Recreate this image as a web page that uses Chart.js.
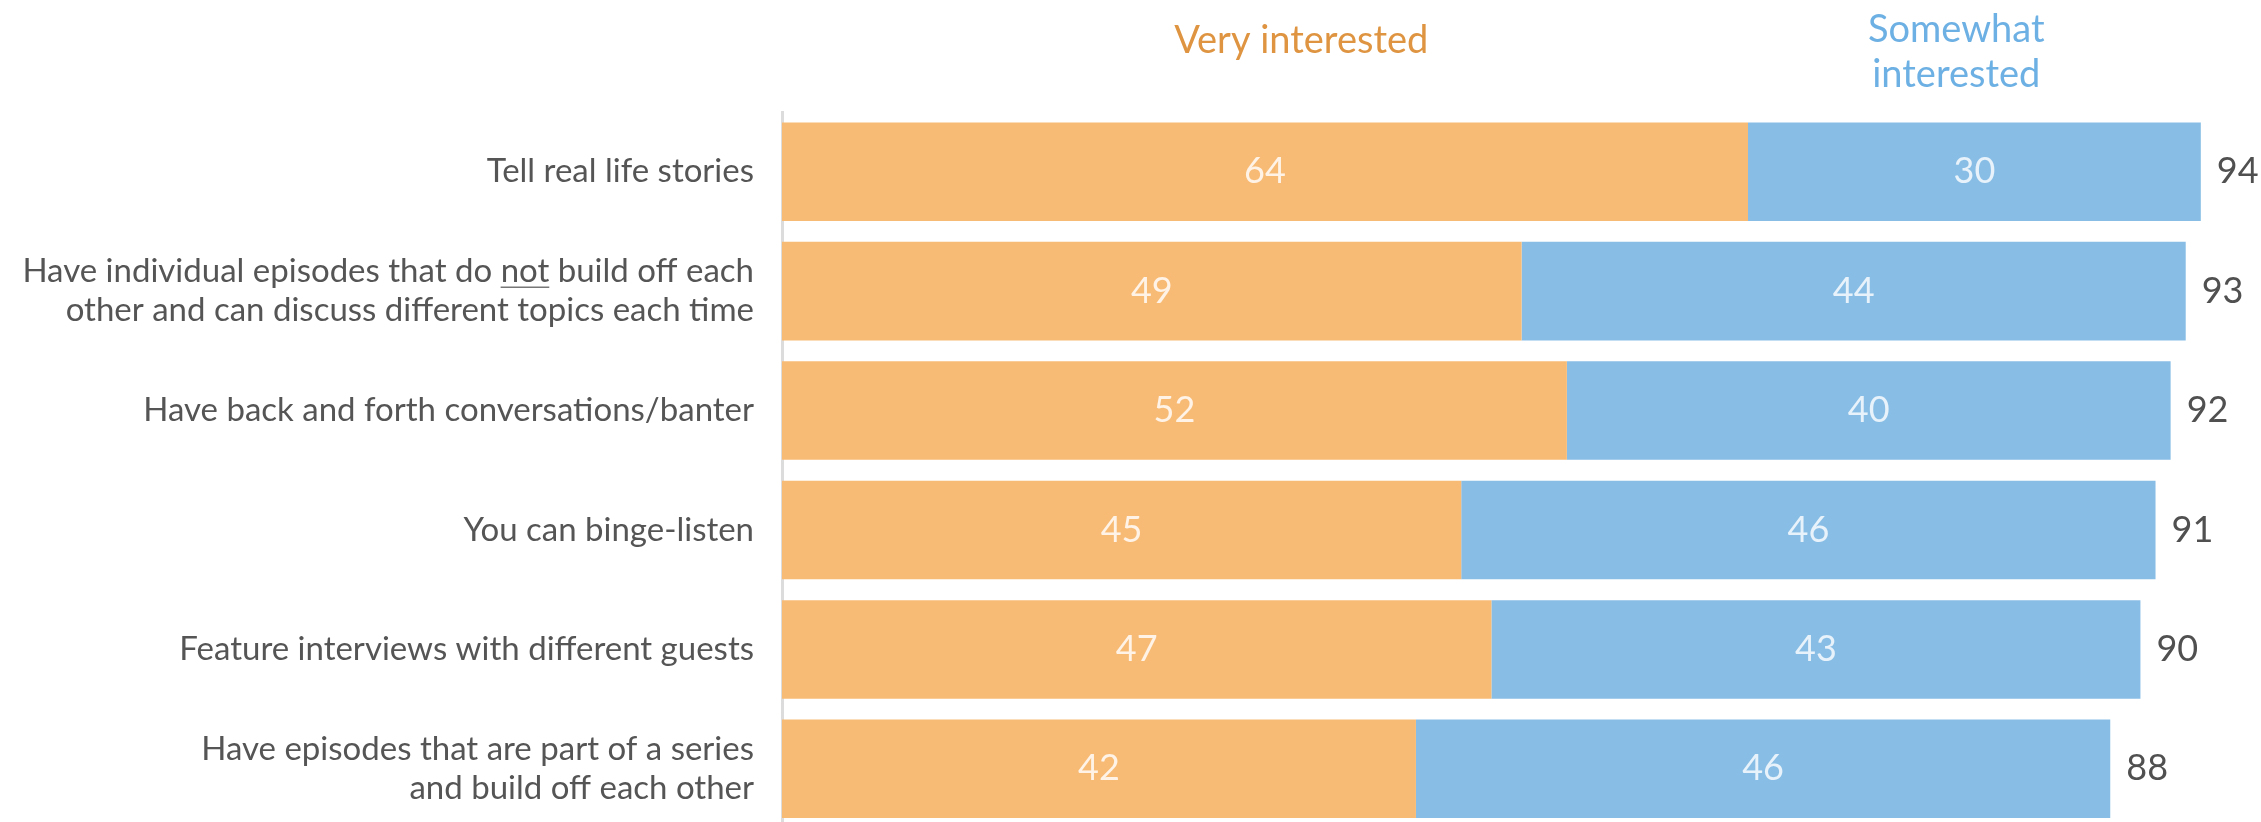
<!DOCTYPE html>
<html>
<head>
<meta charset="utf-8">
<title>Podcast features</title>
<script src="https://cdn.jsdelivr.net/npm/chart.js@4.4.1/dist/chart.umd.min.js"></script>
<style>
  html, body { margin: 0; padding: 0; background: #fff; overflow: hidden; }
  #wrap { width: 2261px; height: 822px; overflow: hidden; }
  canvas { display: block; }
</style>
</head>
<body>
<!-- the last row runs past the bottom edge, so the canvas is taller than the frame -->
<div id="wrap"><canvas id="featureChart" width="2261" height="876"></canvas></div>
<script>
var categories = [
  "Tell real life stories",
  ["Have individual episodes that do not build off each", "other and can discuss different topics each time"],
  "Have back and forth conversations/banter",
  "You can binge-listen",
  "Feature interviews with different guests",
  ["Have episodes that are part of a series", "and build off each other"]
];
var veryInterested = [64, 49, 52, 45, 47, 42];
var somewhatInterested = [30, 44, 40, 46, 43, 46];
var totals = [94, 93, 92, 91, 90, 88];

var FONT = "Lato, sans-serif";
var ORANGE = "#F8BB75";
var BLUE = "#88BEE6";

// numbers inside each segment and the total just past the end of the bar
var segmentLabels = {
  id: 'segmentLabels',
  afterDatasetsDraw: function(chart) {
    var ctx = chart.ctx;
    ctx.save();
    ctx.font = "36px " + FONT;
    ctx.textAlign = "center";
    ctx.textBaseline = "middle";
    chart.data.datasets.forEach(function(ds, di) {
      chart.getDatasetMeta(di).data.forEach(function(bar, i) {
        ctx.fillStyle = ds.labelColor;
        ctx.fillText(ds.data[i], (bar.x + bar.base) / 2, bar.y);
      });
    });
    var outer = chart.getDatasetMeta(chart.data.datasets.length - 1).data;
    ctx.textAlign = "left";
    ctx.fillStyle = "#505050";
    outer.forEach(function(bar, i) {
      ctx.fillText(totals[i], bar.x + 16, bar.y);
    });
    ctx.restore();
  }
};

// series names above the bars
var columnHeads = {
  id: 'columnHeads',
  afterDraw: function(chart, args, opts) {
    var ctx = chart.ctx;
    var x = chart.scales.x;
    ctx.save();
    ctx.font = "38px " + FONT;
    ctx.textAlign = "center";
    ctx.textBaseline = "middle";
    opts.heads.forEach(function(h) {
      ctx.fillStyle = h.color;
      h.lines.forEach(function(line, li) {
        ctx.fillText(line, x.getPixelForValue(h.at), h.top + li * 45);
      });
    });
    ctx.restore();
  }
};

// underline the word "not" in the second category label
var underlineNot = {
  id: 'underlineNot',
  afterDraw: function(chart) {
    var y = chart.scales.y;
    var t = y.options.ticks;
    var size = t.font.size;
    var lh = size * t.font.lineHeight;
    var lines = categories[1];
    var ctx = chart.ctx;
    ctx.save();
    ctx.font = size + "px " + FONT;
    var right = y.right - t.padding;
    var start = right - ctx.measureText(lines[0]).width;
    var pre = ctx.measureText("Have individual episodes that do ").width;
    var w = ctx.measureText("not").width;
    var yy = y.getPixelForTick(1) - lh / 2 + size * 0.47;
    ctx.strokeStyle = "#777";
    ctx.lineWidth = 1.5;
    ctx.beginPath();
    ctx.moveTo(start + pre, yy);
    ctx.lineTo(start + pre + w, yy);
    ctx.stroke();
    ctx.restore();
  }
};

new Chart(document.getElementById("featureChart"), {
  type: 'bar',
  data: {
    labels: categories,
    datasets: [{
      label: "Very interested",
      data: veryInterested,
      backgroundColor: ORANGE,
      labelColor: "rgba(255,255,255,0.82)",
      barPercentage: 0.825,
      categoryPercentage: 1.0
    }, {
      label: "Somewhat interested",
      data: somewhatInterested,
      backgroundColor: BLUE,
      labelColor: "rgba(255,255,255,0.8)",
      barPercentage: 0.825,
      categoryPercentage: 1.0
    }]
  },
  options: {
    indexAxis: 'y',
    responsive: false,
    animation: false,
    layout: { padding: { top: 112, bottom: 40, left: 0, right: 30 } },
    plugins: {
      legend: { display: false },
      tooltip: { enabled: false },
      columnHeads: {
        heads: [
          { lines: ["Very interested"], at: 34.4, top: 41, color: "#DE9440" },
          { lines: ["Somewhat", "interested"], at: 77.8, top: 30, color: "#6DB0E3" }
        ]
      }
    },
    scales: {
      x: { stacked: true, min: 0, max: 96, display: false },
      y: {
        stacked: true,
        afterFit: function(scale) { scale.width = 782; },
        grid: { display: false, drawTicks: false },
        border: { display: true, color: "#dcdcdc", width: 3 },
        ticks: {
          color: "#555",
          padding: 28,
          font: { family: FONT, size: 33, lineHeight: 1.18 }
        }
      }
    }
  },
  plugins: [segmentLabels, columnHeads, underlineNot]
});
</script>
</body>
</html>
